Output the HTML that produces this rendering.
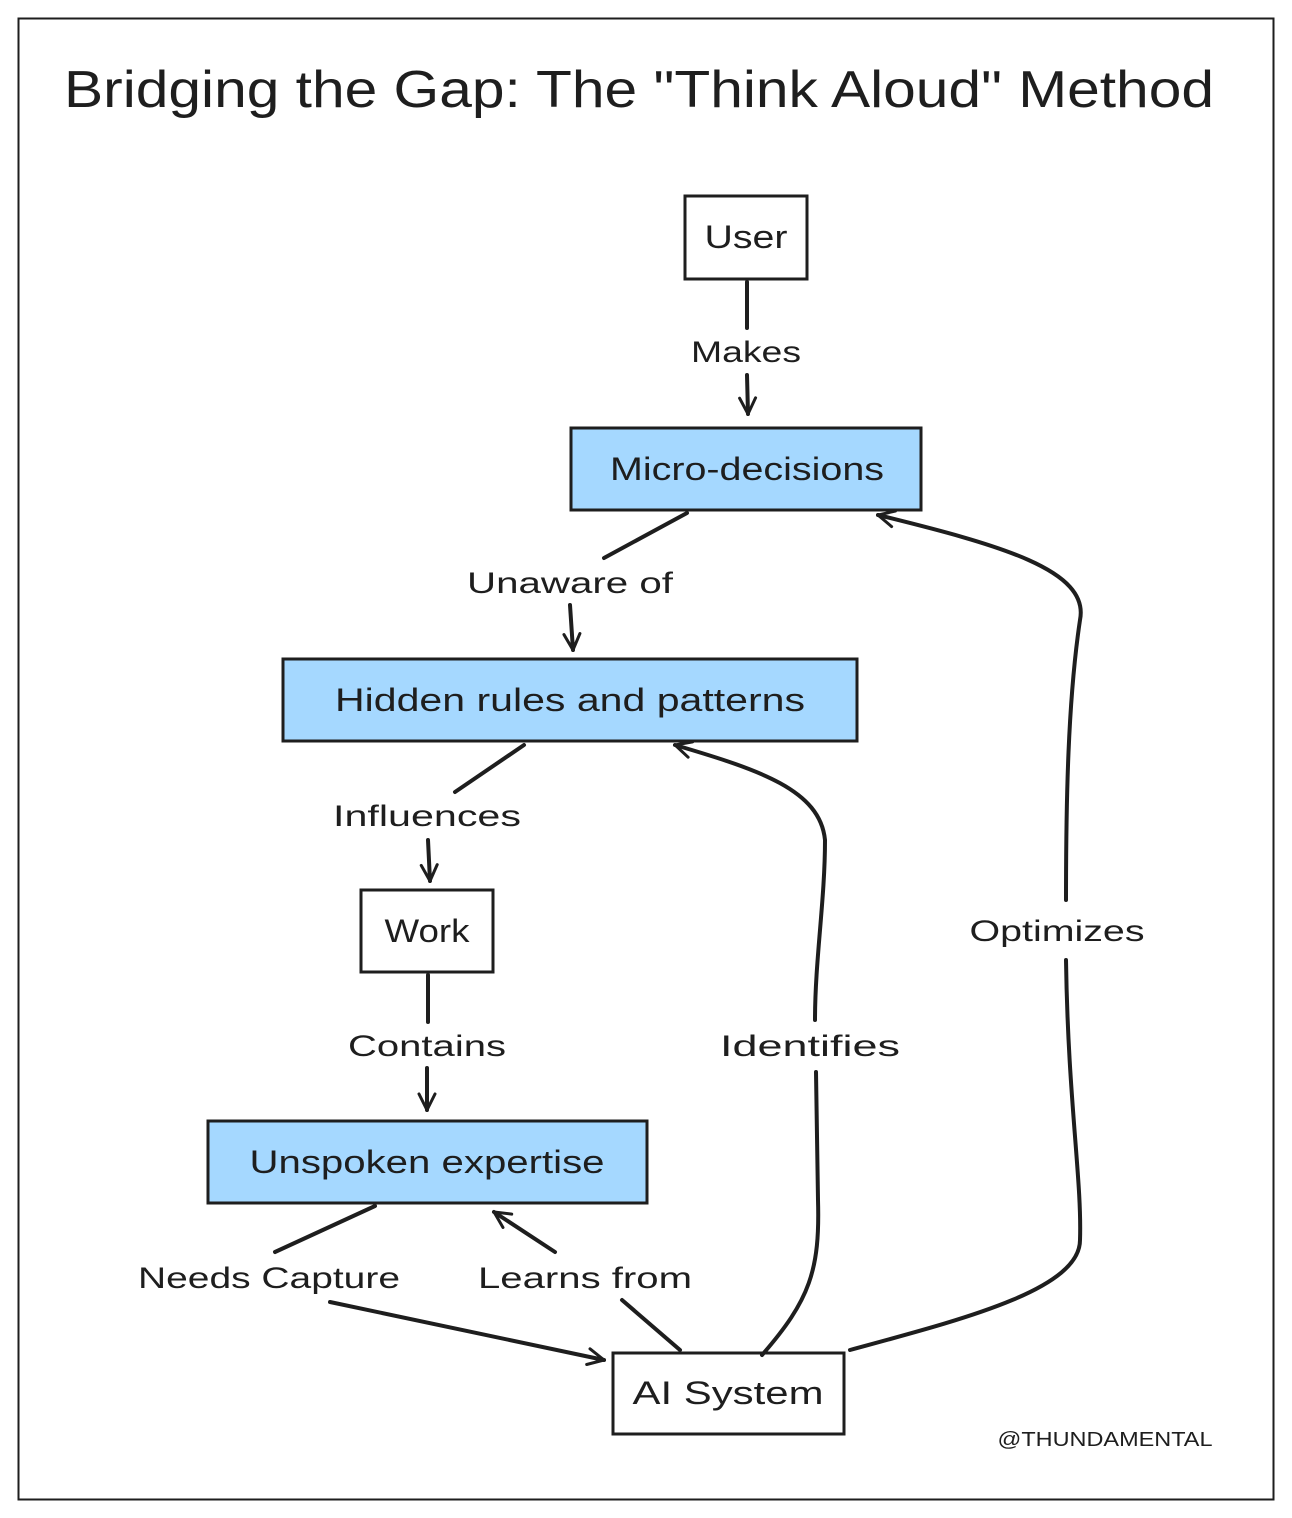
<!DOCTYPE html>
<html><head><meta charset="utf-8"><style>
html,body{margin:0;padding:0;background:#fff;}
svg{display:block;}
text{font-family:"Liberation Sans","DejaVu Sans",sans-serif;fill:#1e1e1e;}
</style></head><body>
<svg width="1292" height="1518" viewBox="0 0 1292 1518" xmlns="http://www.w3.org/2000/svg">
<defs>
<marker id="ah" viewBox="0 0 20 20" refX="18" refY="10" markerWidth="20" markerHeight="20" markerUnits="userSpaceOnUse" orient="auto">
<path d="M2 2 L18 10 L2 18" fill="none" stroke="#1e1e1e" stroke-width="3" stroke-linecap="round"/>
</marker>
</defs>
<rect x="18.5" y="18.5" width="1255" height="1481" fill="#fff" stroke="#1e1e1e" stroke-width="2"/>
<text x="639" y="107" font-size="52" text-anchor="middle" textLength="1150" lengthAdjust="spacingAndGlyphs">Bridging the Gap: The "Think Aloud" Method</text>

<g stroke="#1e1e1e" stroke-width="3">
<rect x="685" y="196" width="122" height="83" fill="#fff"/>
<rect x="571" y="428" width="350" height="82" fill="#a5d8ff"/>
<rect x="283" y="659" width="574" height="82" fill="#a5d8ff"/>
<rect x="361" y="890" width="132" height="82" fill="#fff"/>
<rect x="208" y="1121" width="439" height="82" fill="#a5d8ff"/>
<rect x="613" y="1353" width="231" height="81" fill="#fff"/>
</g>

<g font-size="32" text-anchor="middle" lengthAdjust="spacingAndGlyphs">
<text x="746" y="248" textLength="83" lengthAdjust="spacingAndGlyphs">User</text>
<text x="747" y="480" textLength="274" lengthAdjust="spacingAndGlyphs">Micro-decisions</text>
<text x="570" y="711" textLength="470" lengthAdjust="spacingAndGlyphs">Hidden rules and patterns</text>
<text x="427" y="942" textLength="85" lengthAdjust="spacingAndGlyphs">Work</text>
<text x="427" y="1173" textLength="355" lengthAdjust="spacingAndGlyphs">Unspoken expertise</text>
<text x="728" y="1404" textLength="191" lengthAdjust="spacingAndGlyphs">AI System</text>
</g>

<g fill="none" stroke="#1e1e1e" stroke-width="4" stroke-linecap="round">
<path d="M747 282 L747 328"/>
<path d="M747 375 L748 414" marker-end="url(#ah)"/>
<path d="M687 513 L604 558"/>
<path d="M570 605 L573 650" marker-end="url(#ah)"/>
<path d="M524 745 L455 792"/>
<path d="M428 840 L430 881" marker-end="url(#ah)"/>
<path d="M428 975 L428 1022"/>
<path d="M427 1068 L427 1110" marker-end="url(#ah)"/>
<path d="M375 1206 L275 1252"/>
<path d="M330 1302 L604 1360" marker-end="url(#ah)"/>
<path d="M680 1350 L622 1300"/>
<path d="M555 1252 L494 1212" marker-end="url(#ah)"/>
<path d="M762 1355 C810 1300 820 1270 818 1200 L816 1072"/>
<path d="M815 1020 C815 960 825 900 825 840 C820 790 760 770 675 745" marker-end="url(#ah)"/>
<path d="M850 1350 C960 1320 1080 1290 1080 1240 C1082 1180 1068 1100 1066 960"/>
<path d="M1066 900 C1066 800 1068 700 1080 620 C1090 570 1000 545 878 515" marker-end="url(#ah)"/>
</g>

<g font-size="30" text-anchor="middle">
<text x="746" y="362" textLength="110" lengthAdjust="spacingAndGlyphs">Makes</text>
<text x="570" y="593" textLength="206" lengthAdjust="spacingAndGlyphs">Unaware of</text>
<text x="427" y="826" textLength="188" lengthAdjust="spacingAndGlyphs">Influences</text>
<text x="427" y="1056" textLength="158" lengthAdjust="spacingAndGlyphs">Contains</text>
<text x="810" y="1056" textLength="180" lengthAdjust="spacingAndGlyphs">Identifies</text>
<text x="1057" y="941" textLength="175" lengthAdjust="spacingAndGlyphs">Optimizes</text>
<text x="269" y="1288" textLength="262" lengthAdjust="spacingAndGlyphs">Needs Capture</text>
<text x="585" y="1288" textLength="214" lengthAdjust="spacingAndGlyphs">Learns from</text>
</g>
<text x="1105" y="1446" font-size="20" text-anchor="middle" textLength="215" lengthAdjust="spacingAndGlyphs">@THUNDAMENTAL</text>
</svg>
</body></html>
